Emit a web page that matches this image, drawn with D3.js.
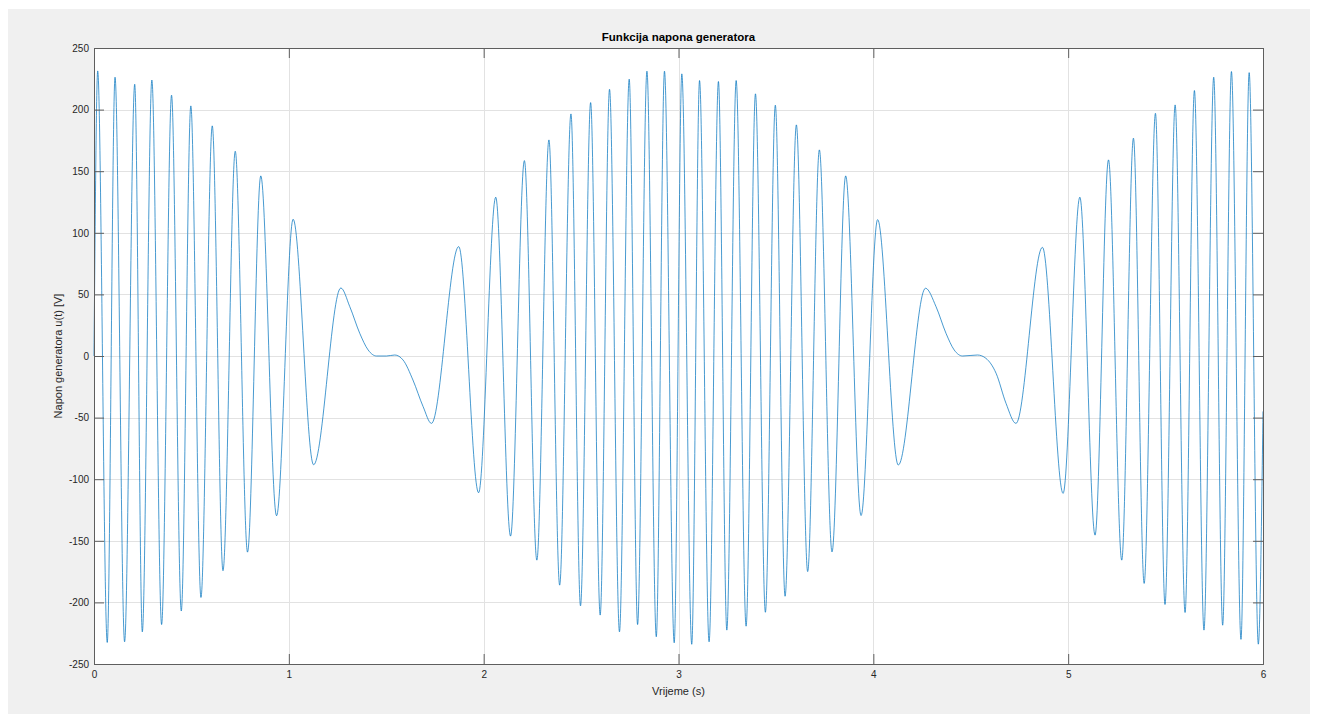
<!DOCTYPE html>
<html><head><meta charset="utf-8">
<script src="https://cdn.jsdelivr.net/npm/d3@7"></script>
<style>body{margin:0;background:#fff} text{font-family:"Liberation Sans",Arial,Helvetica,sans-serif}</style>
</head><body><svg id="c" width="1317" height="721"></svg>
<script>
const title = "Funkcija napona generatora";
const xLabel = "Vrijeme (s)";
const yLabel = "Napon generatora u(t) [V]";
const xTicks = [0, 1, 2, 3, 4, 5, 6];
const yTicks = [-250, -200, -150, -100, -50, 0, 50, 100, 150, 200, 250];

const time = [
  0, 0.019, 0.068, 0.108, 0.157, 0.209, 0.248, 0.297, 0.347, 0.398, 0.448, 0.497, 0.549,
  0.607, 0.662, 0.725, 0.788, 0.856, 0.937, 1.022, 1.127, 1.267, 1.313, 1.364, 1.407,
  1.45, 1.501, 1.544, 1.586, 1.637, 1.689, 1.732, 1.872, 1.974, 2.062, 2.138, 2.209,
  2.273, 2.335, 2.39, 2.448, 2.497, 2.549, 2.598, 2.646, 2.697, 2.747, 2.79, 2.838,
  2.886, 2.928, 2.978, 3.017, 3.068, 3.108, 3.157, 3.205, 3.248, 3.296, 3.347, 3.395,
  3.446, 3.497, 3.547, 3.605, 3.663, 3.723, 3.788, 3.858, 3.937, 4.022, 4.128, 4.268,
  4.322, 4.373, 4.415, 4.458, 4.535, 4.578, 4.63, 4.681, 4.732, 4.868, 4.974, 5.06,
  5.138, 5.207, 5.275, 5.335, 5.39, 5.448, 5.497, 5.549, 5.6, 5.648, 5.697, 5.747,
  5.793, 5.838, 5.887, 5.929, 5.976, 6.0
];
const voltage = [
  0, 231.4, -232.5, 226.3, -232, 220.6, -223.9, 224, -218, 211.7, -207, 203, -196,
  186.8, -174.3, 166.2, -159.2, 146.2, -129.7, 111, -88.3, 55.2, 40, 18.4, 4.9,
  0, 0, 0.8, -3.2, -19.5, -41, -54.7, 88.8, -111, 128.9, -146.2, 158.6,
  -165.7, 175.4, -186, 196.5, -202.8, 205.7, -210.3, 216.5, -223.9, 224.7, -218, 231.2,
  -227.9, 231.2, -232.8, 229, -234, 223.6, -232, 222.8, -222.5, 223.6, -219.3, 212.8,
  -208, 203.6, -195, 187.6, -175, 167.3, -159, 146.2, -129.5, 110.7, -88.5, 55,
  40, 18.4, 4.9, 0, 0.8, -1.9, -14, -38.4, -54.7, 88.2, -111.5, 128.9,
  -145.4, 159.2, -165.7, 176.8, -184.6, 197, -201.7, 203.8, -208.2, 215.5, -222.5, 226.3,
  -218.5, 230.9, -230, 230, -233.9, -45
];

const L = 94, R = 1263, T = 48, B = 664;
const svg = d3.select("#c");

svg.append("rect").attr("x", 8).attr("y", 9).attr("width", 1302).attr("height", 705).attr("fill", "#f0f0f0");
svg.append("rect").attr("x", L).attr("y", T).attr("width", R - L).attr("height", B - T).attr("fill", "#fff");

const x = d3.scaleLinear().domain([0, 6]).range([L, R]);
const y = d3.scaleLinear().domain([-250, 250]).range([B, T]);

// grid
const grid = svg.append("g").attr("stroke", "#e2e2e2").attr("stroke-width", 1);
grid.selectAll(".gx").data(xTicks.slice(1, -1)).join("line")
  .attr("x1", d => Math.round(x(d)) + 0.5).attr("x2", d => Math.round(x(d)) + 0.5)
  .attr("y1", T).attr("y2", B);
grid.selectAll(".gy").data(yTicks.slice(1, -1)).join("line")
  .attr("y1", d => Math.round(y(d)) + 0.5).attr("y2", d => Math.round(y(d)) + 0.5)
  .attr("x1", L).attr("x2", R);

// data line
const pts = time.map((t, i) => [t, voltage[i]]);
const line = d3.line().x(d => x(d[0])).y(d => y(d[1])).curve(d3.curveMonotoneX);
svg.append("path").datum(pts).attr("d", line)
  .attr("fill", "none").attr("stroke", "#0072bd").attr("stroke-width", 0.8).attr("stroke-opacity", 0.9);

// axes
const axCol = "#5e5e5e";
const tickLen = 10;
const fmt = d => String(d);
const ax = svg.append("g");
const xb = ax.append("g").attr("transform", `translate(0,${B})`)
  .call(d3.axisBottom(x).tickValues(xTicks).tickSize(-tickLen).tickPadding(tickLen + 5).tickFormat(fmt));
ax.append("g").attr("transform", `translate(0,${T})`)
  .call(d3.axisTop(x).tickValues(xTicks).tickSize(-tickLen).tickFormat(""));
const yl = ax.append("g").attr("transform", `translate(${L},0)`)
  .call(d3.axisLeft(y).tickValues(yTicks).tickSize(-tickLen).tickPadding(tickLen + 5).tickFormat(fmt));
ax.append("g").attr("transform", `translate(${R},0)`)
  .call(d3.axisRight(y).tickValues(yTicks).tickSize(-tickLen).tickFormat(""));
ax.selectAll("path.domain").attr("stroke", axCol).attr("stroke-width", 1);
ax.selectAll(".tick line").attr("stroke", axCol).attr("stroke-width", 1);
ax.selectAll(".tick text").attr("fill", "#262626").attr("font-size", "10px")
  .attr("font-family", '"Liberation Sans",Arial,sans-serif');
xb.selectAll(".tick text").attr("dy", "0.71em").attr("y", 7);
yl.selectAll(".tick text").attr("x", -5);

// title and labels
svg.append("text").attr("x", (L + R) / 2).attr("y", 41).attr("text-anchor", "middle")
  .attr("font-size", "11.5px").attr("font-weight", "bold").attr("fill", "#000").text(title);
svg.append("text").attr("x", (L + R) / 2).attr("y", 695).attr("text-anchor", "middle")
  .attr("font-size", "11px").attr("fill", "#262626").text(xLabel);
svg.append("text").attr("transform", `translate(62,${(T + B) / 2}) rotate(-90)`).attr("text-anchor", "middle")
  .attr("font-size", "11px").attr("fill", "#262626").text(yLabel);
</script></body></html>
